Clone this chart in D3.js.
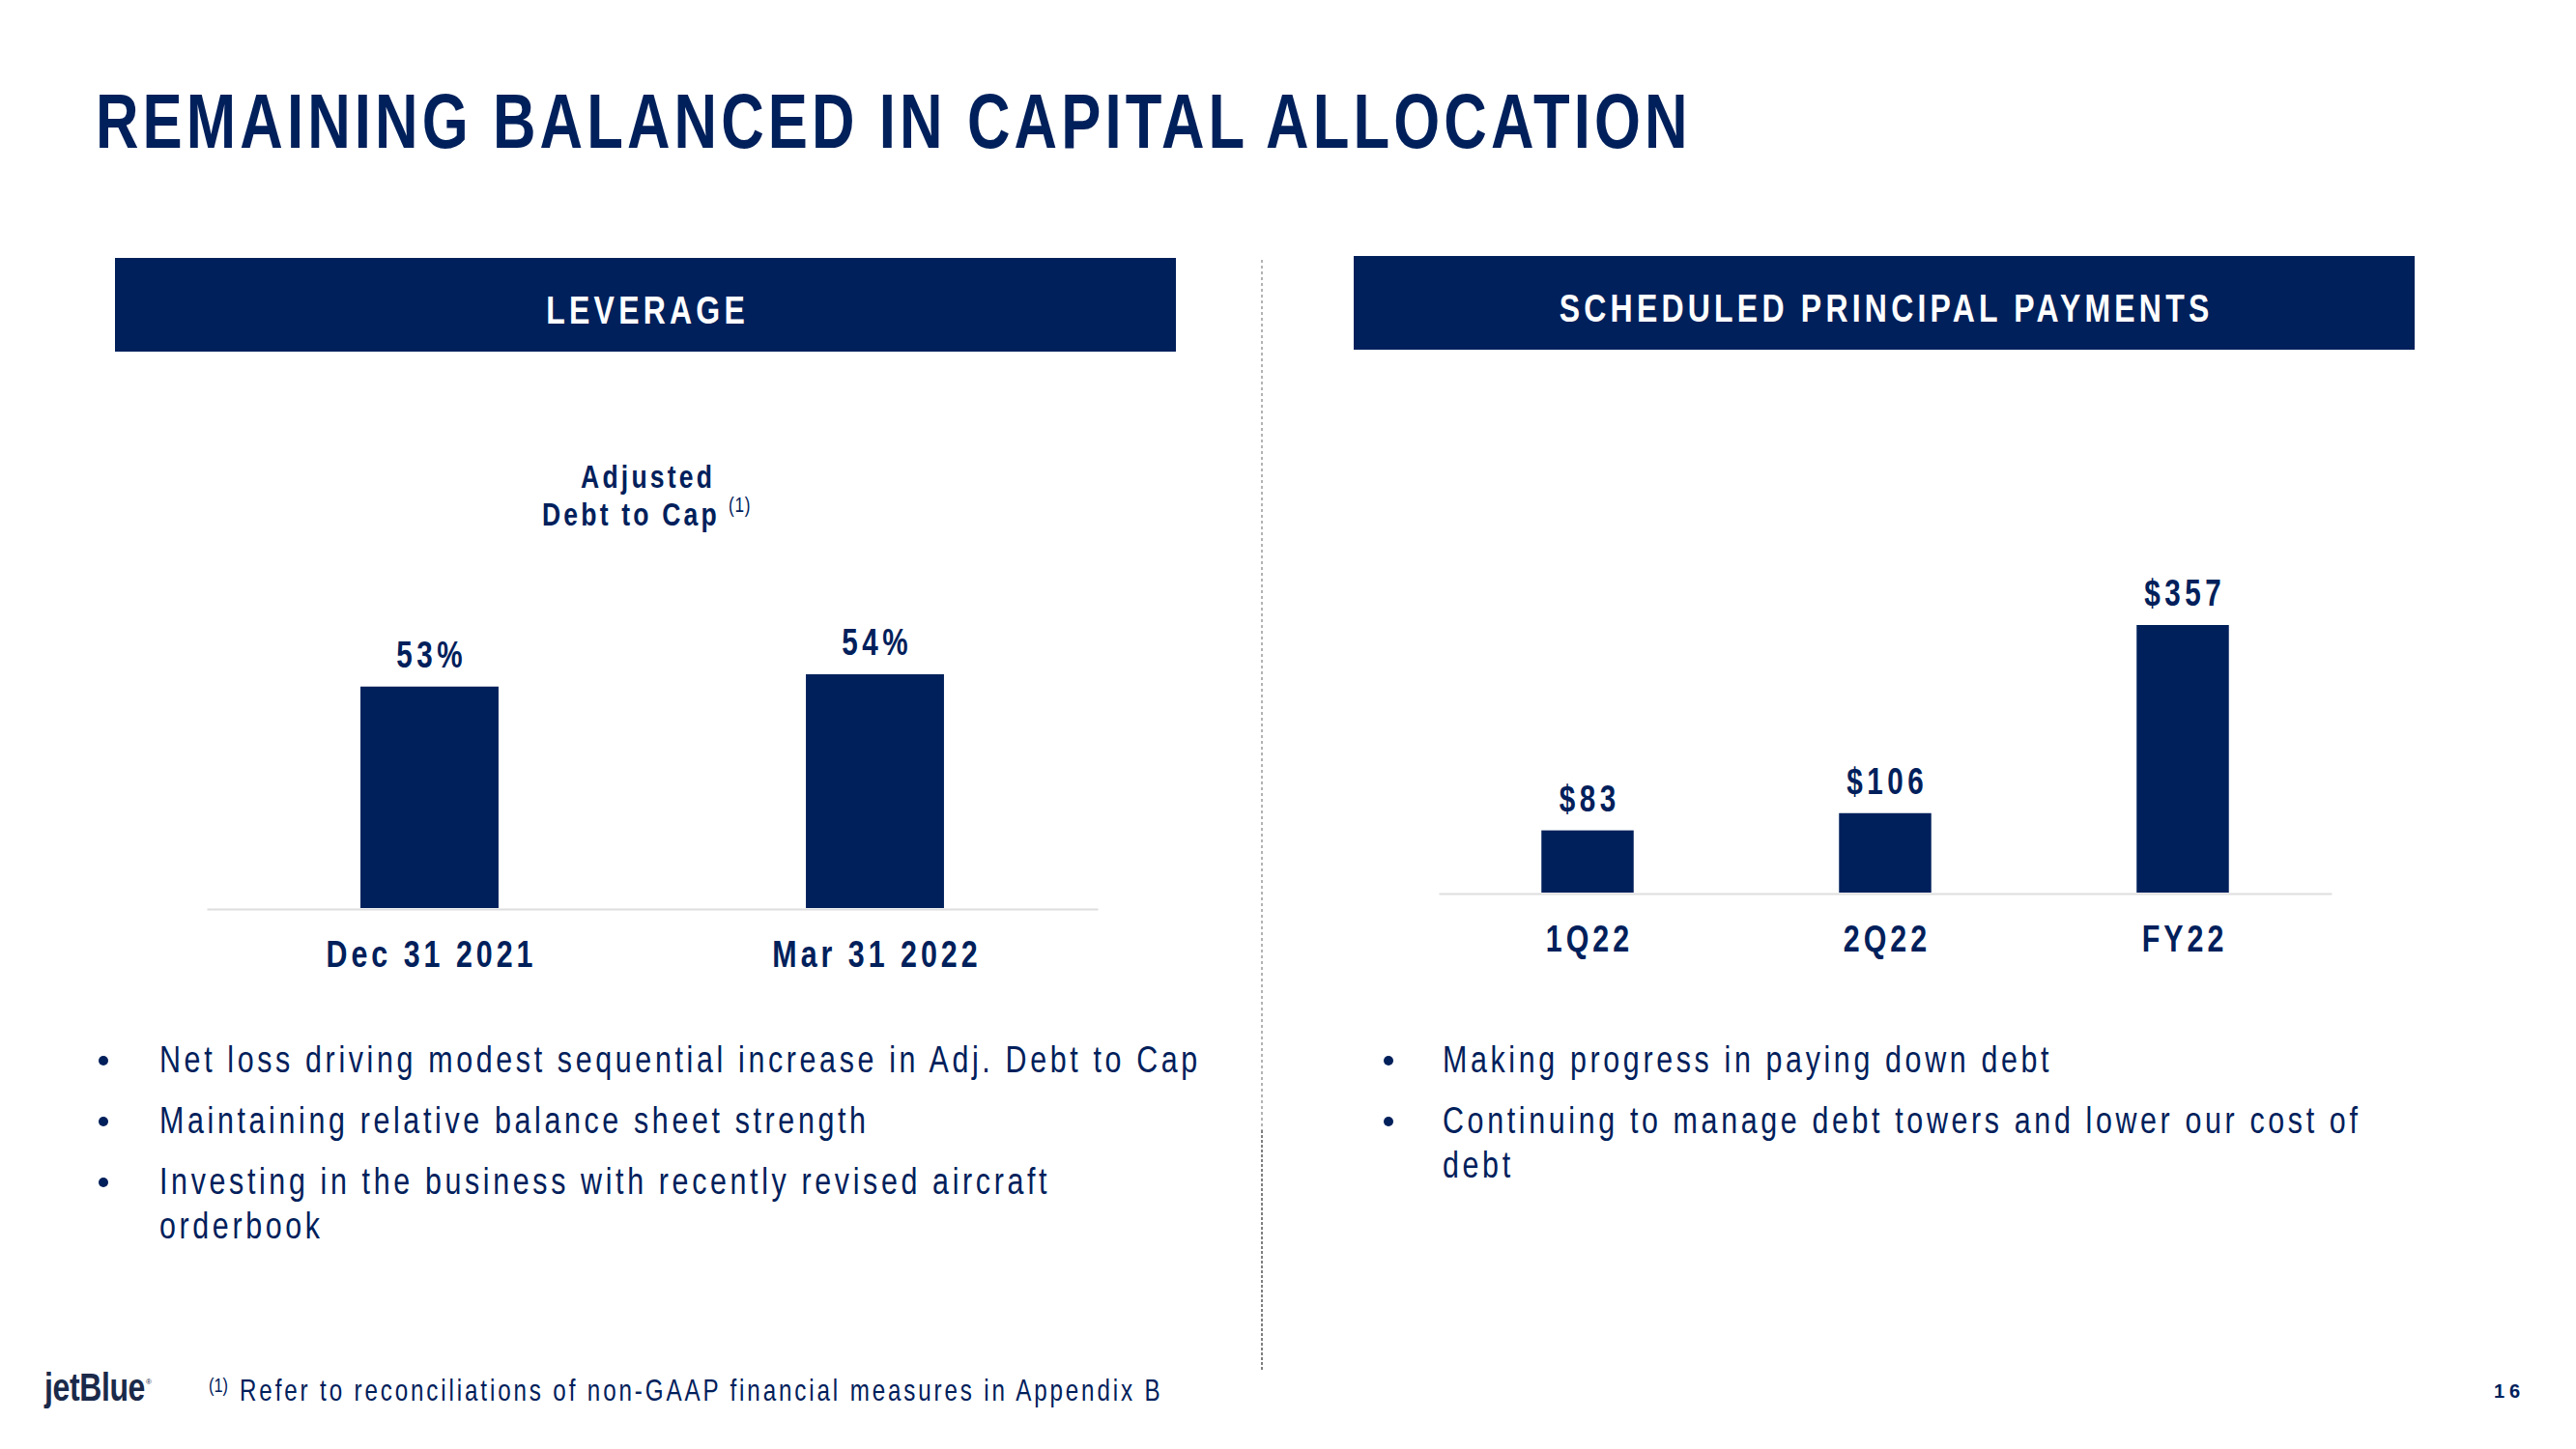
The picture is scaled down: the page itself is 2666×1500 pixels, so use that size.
<!DOCTYPE html>
<html><head><meta charset="utf-8">
<script src="https://cdn.jsdelivr.net/npm/d3@7"></script>
<style>
html,body{margin:0;padding:0;background:#fff;}
svg{display:block;}
text{font-family:"Liberation Sans",Arial,sans-serif;}
</style></head>
<body>
<svg id="c" width="2666" height="1500"></svg>
<script>
// ---- data ----
const pageTitle = "REMAINING BALANCED IN CAPITAL ALLOCATION";
const leftHeader = "LEVERAGE";
const rightHeader = "SCHEDULED PRINCIPAL PAYMENTS";
const leverageTitleLines = ["Adjusted", "Debt to Cap"];
const leverageCategories = ["Dec 31 2021", "Mar 31 2022"];
const leverageValues = [53, 54];
const leverageLabels = ["53%", "54%"];
const paymentCategories = ["1Q22", "2Q22", "FY22"];
const paymentValues = [83, 106, 357];
const paymentLabels = ["$83", "$106", "$357"];
const leftBullets = [
  ["Net loss driving modest sequential increase in Adj. Debt to Cap"],
  ["Maintaining relative balance sheet strength"],
  ["Investing in the business with recently revised aircraft", "orderbook"]
];
const rightBullets = [
  ["Making progress in paying down debt"],
  ["Continuing to manage debt towers and lower our cost of", "debt"]
];
const footnoteMark = "(1)";
const footnoteText = "Refer to reconciliations of non-GAAP financial measures in Appendix B";
const logoText = "jetBlue";
const pageNumber = "16";

// ---- drawing ----
const NAVY = "#00205B";
const S = 0.78; // horizontal condensing to imitate a narrow face
const svg = d3.select("#c");

// letter-spacing (in unscaled units) so that condensed str reaches target width
function spacingFor(str, size, weight, target) {
  const t = svg.append("text").attr("font-size", size).attr("font-weight", weight).text(str);
  const w = t.node().getComputedTextLength();
  t.remove();
  return (target / S - w) / str.length;
}
// condensed text placed at (x,y)
function ntext(parent, str, o) {
  const g = parent.append("g").attr("transform", `translate(${o.x},${o.y})`);
  const ls = o.ls || 0;
  const anchor = o.anchor || "start";
  return g.append("text")
    .attr("transform", `scale(${S},1)`)
    .attr("x", anchor === "middle" ? ls / 2 : 0)
    .attr("text-anchor", anchor)
    .attr("font-size", o.size).attr("font-weight", o.weight || "normal")
    .attr("fill", o.fill || NAVY).attr("letter-spacing", ls).text(str);
}

// Title
ntext(svg, pageTitle, {x: 99, y: 153, size: 79, weight: "bold", ls: spacingFor(pageTitle, 79, "bold", 1652)});

// Header boxes
const hdrLS = spacingFor(rightHeader, 41, "bold", 677);
[[119, 267, leftHeader, 668], [1401, 265, rightHeader, 1950]].forEach(([x, y, t, cx]) => {
  svg.append("rect").attr("x", x).attr("y", y).attr("width", 1098).attr("height", 97).attr("fill", NAVY);
  ntext(svg, t, {x: cx, y: y + 68, size: 41, weight: "bold", fill: "#fff", anchor: "middle", ls: hdrLS});
});

// Dashed divider (lighter above, denser below)
svg.append("line").attr("x1", 1306).attr("x2", 1306).attr("y1", 269).attr("y2", 1170)
  .attr("stroke", "#9a9a9a").attr("stroke-width", 1.5).attr("stroke-dasharray", "3,3");
svg.append("line").attr("x1", 1306).attr("x2", 1306).attr("y1", 1170).attr("y2", 1418)
  .attr("stroke", "#555").attr("stroke-width", 1.5).attr("stroke-dasharray", "3,2");

// Shared label styling
const valLS = spacingFor("$357", 38, "bold", 84);
const catLS = spacingFor("Dec 31 2021", 39, "bold", 218);

function barChart(g, cats, vals, labels, x, y, baseY) {
  const bw = x.bandwidth() * 0.31;
  g.selectAll("rect.bar").data(vals).join("rect").attr("class", "bar")
    .attr("x", (d, i) => x(cats[i]) + x.bandwidth() / 2 - bw / 2)
    .attr("width", bw)
    .attr("y", d => y(d))
    .attr("height", d => baseY - y(d))
    .attr("fill", NAVY);
  const axis = g.append("g").attr("transform", `translate(0,${baseY + 1})`)
    .call(d3.axisBottom(x).tickSize(0).tickSizeOuter(0).tickPadding(32));
  axis.select(".domain").attr("stroke", "#dedede").attr("stroke-width", 2);
  axis.selectAll(".tick text").attr("font-size", 39).attr("font-weight", "bold")
    .attr("fill", NAVY).attr("letter-spacing", catLS)
    .attr("x", catLS / 2)
    .attr("transform", `scale(${S},1)`)
    .style("font-family", '"Liberation Sans",Arial,sans-serif');
  vals.forEach((d, i) => {
    ntext(g, labels[i], {x: x(cats[i]) + x.bandwidth() / 2, y: y(d) - 20, size: 38, weight: "bold",
      anchor: "middle", ls: valLS});
  });
}

// Left chart
const xL = d3.scaleBand().domain(leverageCategories).range([214, 1136]);
const yL = d3.scaleLinear().domain([35, 54]).range([940, 698]);
barChart(svg.append("g"), leverageCategories, leverageValues, leverageLabels, xL, yL, 940);

// Left chart subtitle
const subLS = spacingFor(leverageTitleLines[1], 34, "bold", 184);
ntext(svg, leverageTitleLines[0], {x: 669, y: 505, size: 34, weight: "bold", anchor: "middle", ls: subLS});
ntext(svg, leverageTitleLines[1], {x: 561, y: 544, size: 34, weight: "bold", ls: subLS});
ntext(svg, footnoteMark, {x: 754, y: 530, size: 22, ls: 1});

// Right chart
const xR = d3.scaleBand().domain(paymentCategories).range([1489, 2413]);
const yR = d3.scaleLinear().domain([0, 357]).range([924, 647]);
barChart(svg.append("g"), paymentCategories, paymentValues, paymentLabels, xR, yR, 924);

// Bullets
const bulLS = spacingFor(leftBullets[0][0], 39, "normal", 1078);
function bullets(list, dotX, textX, startY) {
  let yy = startY;
  list.forEach(lines => {
    svg.append("circle").attr("cx", dotX).attr("cy", yy - 12).attr("r", 5).attr("fill", NAVY);
    lines.forEach((ln, j) => {
      ntext(svg, ln, {x: textX, y: yy, size: 39, ls: bulLS});
      yy += (j < lines.length - 1) ? 46 : 63;
    });
  });
}
bullets(leftBullets, 107, 165, 1110);
bullets(rightBullets, 1437, 1493, 1110);

// Footer
ntext(svg, footnoteMark, {x: 216, y: 1441, size: 21});
ntext(svg, footnoteText, {x: 248, y: 1450, size: 31, ls: spacingFor(footnoteText, 31, "normal", 956)});
ntext(svg, logoText, {x: 46, y: 1450, size: 41, weight: "bold", fill: "#1b2a4a", ls: spacingFor(logoText, 41, "bold", 104)});
svg.append("text").attr("x", 151).attr("y", 1433).attr("font-size", 8).attr("fill", "#1b2a4a").text("®");
svg.append("text").attr("x", 2581).attr("y", 1447).attr("font-size", 20).attr("font-weight", "bold")
  .attr("fill", NAVY).attr("letter-spacing", 5).text(pageNumber);
</script>
</body></html>
